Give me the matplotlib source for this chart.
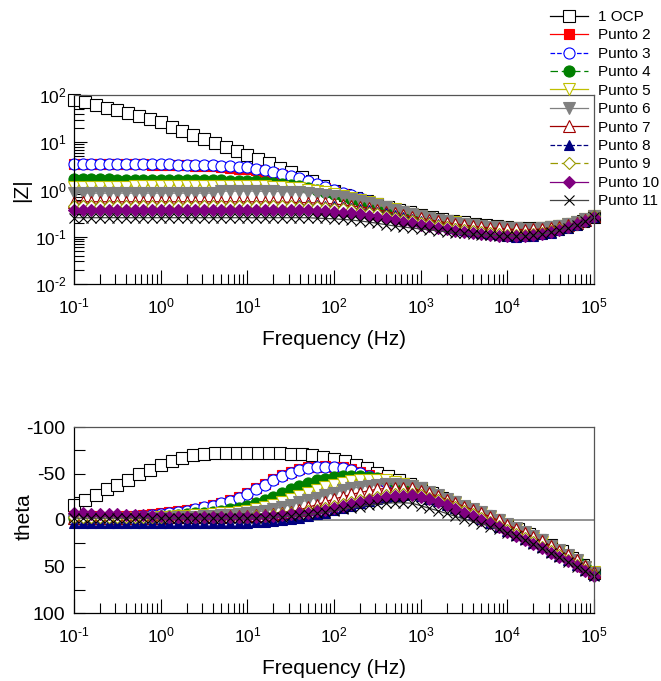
import numpy as np
import matplotlib.pyplot as plt
from matplotlib.ticker import FixedLocator, NullFormatter, FuncFormatter

plt.rcParams["font.family"] = ["Liberation Sans", "DejaVu Sans"]
plt.rcParams["mathtext.fontset"] = "custom"
plt.rcParams["mathtext.rm"] = "Liberation Sans"
plt.rcParams["mathtext.default"] = "regular"
plt.rcParams["axes.unicode_minus"] = False

# frequency sweeps (Hz), low -> high
freq_ocp = np.logspace(-1, 5, 49)   # 8 points per decade
freq = np.logspace(-1, 5, 61)       # 10 points per decade

labels = ["1 OCP", "Punto 2", "Punto 3", "Punto 4", "Punto 5", "Punto 6",
          "Punto 7", "Punto 8", "Punto 9", "Punto 10", "Punto 11"]

# |Z|
z_ocp = [78, 70, 62, 54, 47, 41, 35.5, 30.5, 26.5,
         21.5, 17.5, 14.3, 11.7, 9.6, 7.9, 6.5, 5.45,
         4.45, 3.6, 2.9, 2.33, 1.87, 1.5, 1.19, 0.946,
         0.781, 0.66, 0.561, 0.484, 0.424, 0.374, 0.33, 0.292,
         0.259, 0.237, 0.218, 0.201, 0.187, 0.176, 0.166, 0.158,
         0.153, 0.151, 0.152, 0.157, 0.168, 0.187, 0.218, 0.264]
z_p2 = [3.43, 3.43, 3.42, 3.42, 3.41, 3.41, 3.40, 3.40, 3.39, 3.38, 3.38,
        3.36, 3.33, 3.25, 3.19, 3.15, 3.08, 2.97, 2.88, 2.77, 2.66,
        2.53, 2.38, 2.20, 2.00, 1.79, 1.58, 1.39, 1.21, 1.06, 0.924,
        0.803, 0.704, 0.616, 0.539, 0.473, 0.413, 0.363, 0.325, 0.292, 0.264,
        0.242, 0.224, 0.209, 0.196, 0.185, 0.175, 0.166, 0.158, 0.153, 0.149,
        0.145, 0.144, 0.144, 0.147, 0.154, 0.164, 0.179, 0.200, 0.231, 0.281]
z_p3 = [3.47, 3.47, 3.45, 3.45, 3.44, 3.44, 3.43, 3.43, 3.42, 3.41, 3.41,
        3.40, 3.38, 3.36, 3.33, 3.30, 3.26, 3.20, 3.12, 3.04, 2.93,
        2.77, 2.60, 2.40, 2.18, 1.95, 1.72, 1.50, 1.30, 1.13, 0.99,
        0.858, 0.748, 0.649, 0.561, 0.495, 0.429, 0.380, 0.336, 0.297, 0.270,
        0.248, 0.229, 0.213, 0.200, 0.188, 0.178, 0.169, 0.162, 0.155, 0.151,
        0.147, 0.145, 0.145, 0.149, 0.155, 0.165, 0.180, 0.201, 0.231, 0.275]
z_p4 = [1.65, 1.65, 1.64, 1.64, 1.63, 1.62, 1.62, 1.61, 1.61, 1.60, 1.60,
        1.60, 1.60, 1.58, 1.58, 1.58, 1.57, 1.56, 1.55, 1.54, 1.52,
        1.49, 1.44, 1.39, 1.32, 1.24, 1.16, 1.07, 0.979, 0.891, 0.803,
        0.715, 0.638, 0.561, 0.495, 0.44, 0.391, 0.347, 0.308, 0.281, 0.259,
        0.240, 0.223, 0.209, 0.197, 0.186, 0.176, 0.167, 0.160, 0.154, 0.150,
        0.146, 0.144, 0.144, 0.147, 0.154, 0.164, 0.179, 0.200, 0.231, 0.275]
z_p5 = [1.12, 1.12, 1.12, 1.12, 1.12, 1.13, 1.13, 1.21, 1.21, 1.21, 1.21,
        1.21, 1.21, 1.21, 1.21, 1.21, 1.20, 1.20, 1.20, 1.19, 1.19,
        1.18, 1.17, 1.14, 1.12, 1.09, 1.05, 0.99, 0.935, 0.869, 0.803,
        0.737, 0.671, 0.605, 0.539, 0.484, 0.429, 0.380, 0.336, 0.303, 0.275,
        0.251, 0.231, 0.216, 0.202, 0.190, 0.180, 0.172, 0.164, 0.157, 0.153,
        0.150, 0.147, 0.147, 0.151, 0.157, 0.167, 0.183, 0.204, 0.233, 0.275]
z_p6 = [0.847, 0.847, 0.836, 0.836, 0.836, 0.836, 0.836, 0.836, 0.836, 0.836, 0.836,
        0.836, 0.836, 0.836, 0.836, 0.836, 0.836, 0.924, 0.924, 0.924, 0.924,
        0.924, 0.913, 0.913, 0.902, 0.891, 0.869, 0.847, 0.814, 0.781, 0.737,
        0.693, 0.638, 0.583, 0.528, 0.473, 0.418, 0.374, 0.33, 0.297, 0.270,
        0.246, 0.228, 0.212, 0.199, 0.188, 0.178, 0.169, 0.163, 0.157, 0.153,
        0.151, 0.149, 0.149, 0.152, 0.158, 0.168, 0.184, 0.205, 0.234, 0.275]
z_p7 = [0.55, 0.55, 0.55, 0.55, 0.55, 0.55, 0.55, 0.55, 0.55, 0.55, 0.55,
        0.55, 0.55, 0.55, 0.55, 0.55, 0.55, 0.55, 0.55, 0.55, 0.55,
        0.55, 0.55, 0.539, 0.539, 0.539, 0.528, 0.528, 0.517, 0.506, 0.495,
        0.473, 0.451, 0.429, 0.407, 0.374, 0.341, 0.314, 0.286, 0.264, 0.244,
        0.227, 0.211, 0.198, 0.187, 0.177, 0.168, 0.161, 0.154, 0.150, 0.145,
        0.143, 0.142, 0.143, 0.146, 0.153, 0.163, 0.178, 0.199, 0.229, 0.273]
z_p8 = [0.473, 0.473, 0.473, 0.473, 0.473, 0.473, 0.473, 0.473, 0.473, 0.473, 0.473,
        0.473, 0.473, 0.473, 0.473, 0.473, 0.473, 0.473, 0.473, 0.473, 0.473,
        0.473, 0.473, 0.473, 0.473, 0.473, 0.473, 0.462, 0.462, 0.451, 0.44,
        0.424, 0.407, 0.385, 0.363, 0.341, 0.314, 0.286, 0.264, 0.242, 0.22,
        0.204, 0.185, 0.168, 0.154, 0.141, 0.130, 0.120, 0.112, 0.107, 0.102,
        0.101, 0.102, 0.106, 0.112, 0.122, 0.136, 0.155, 0.179, 0.212, 0.259]
z_p9 = [0.44, 0.44, 0.44, 0.44, 0.44, 0.44, 0.44, 0.44, 0.44, 0.44, 0.44,
        0.44, 0.44, 0.44, 0.44, 0.44, 0.44, 0.44, 0.44, 0.44, 0.44,
        0.44, 0.44, 0.44, 0.44, 0.44, 0.435, 0.429, 0.418, 0.407, 0.396,
        0.380, 0.363, 0.341, 0.319, 0.297, 0.275, 0.253, 0.231, 0.215, 0.198,
        0.183, 0.169, 0.157, 0.147, 0.139, 0.131, 0.124, 0.119, 0.114, 0.111,
        0.11, 0.111, 0.114, 0.121, 0.131, 0.144, 0.163, 0.187, 0.22, 0.27]
z_p10 = [0.374, 0.374, 0.374, 0.374, 0.374, 0.374, 0.374, 0.374, 0.374, 0.374, 0.374,
         0.374, 0.374, 0.374, 0.374, 0.374, 0.374, 0.374, 0.374, 0.374, 0.374,
         0.374, 0.374, 0.374, 0.374, 0.374, 0.369, 0.363, 0.358, 0.347, 0.336,
         0.325, 0.314, 0.297, 0.281, 0.264, 0.244, 0.226, 0.209, 0.194, 0.179,
         0.166, 0.154, 0.143, 0.133, 0.125, 0.119, 0.113, 0.109, 0.106, 0.103,
         0.103, 0.106, 0.109, 0.116, 0.125, 0.139, 0.157, 0.182, 0.215, 0.264]
z_p11 = [0.253, 0.253, 0.253, 0.253, 0.253, 0.253, 0.253, 0.253, 0.253, 0.253, 0.253,
         0.253, 0.253, 0.253, 0.253, 0.253, 0.253, 0.253, 0.253, 0.253, 0.253,
         0.253, 0.253, 0.253, 0.253, 0.253, 0.253, 0.253, 0.248, 0.244, 0.240,
         0.233, 0.226, 0.216, 0.205, 0.193, 0.180, 0.169, 0.161, 0.153, 0.146,
         0.140, 0.133, 0.128, 0.122, 0.118, 0.113, 0.11, 0.107, 0.105, 0.103,
         0.103, 0.105, 0.108, 0.114, 0.124, 0.138, 0.156, 0.18, 0.213, 0.262]

# theta (deg)
t_ocp = [-16, -21, -27, -33, -38, -43, -49, -54, -59,
         -63, -67, -70, -71.5, -72, -72.5, -72.5, -72.5,
         -72.5, -72, -72, -71.5, -70.5, -69.5, -68, -66,
         -63, -59.5, -55.5, -51, -47, -43, -39, -34,
         -29, -24, -19, -14, -9, -4.5, 0, 5,
         10, 15, 21, 27, 33.5, 40.5, 48, 56.5]
t_p2 = [-4.5, -4, -4, -3.5, -3.5, -3.5, -4, -4.5, -5, -6, -7,
        -8.5, -9.5, -10.5, -12, -14, -16, -18.5, -21.5, -24.5, -29,
        -34, -39, -44, -48, -51.5, -54.5, -56.5, -57.5, -58, -57.5,
        -56.5, -54.5, -51.5, -48, -45, -42, -39, -36.5, -34, -30.5,
        -27, -24, -20.5, -17, -13, -9.5, -6, -2.5, 1.5, 5.5,
        10, 14, 19, 23.5, 28.5, 33.5, 38.5, 44, 50, 56]
t_p3 = [-4, -3.5, -3.5, -3, -3, -3, -3.5, -4, -4.5, -5.5, -6.5,
        -8, -9, -10, -11.5, -13.5, -15.5, -18, -20.5, -23.5, -28,
        -33, -38, -43, -47, -50.5, -53.5, -55.5, -56.5, -57, -56.5,
        -55.5, -53.5, -50.5, -47, -44, -41, -38.5, -36, -33.5, -30,
        -26.5, -23.5, -20, -16.5, -12.5, -9, -5.5, -2, 2, 6,
        10.5, 14.5, 19.5, 24, 29, 34, 39, 44.5, 50.5, 56.5]
t_p4 = [-2, -2, -2, -2, -2, -2, -2, -2.5, -2.5, -3, -4,
        -4.5, -5, -6, -7, -8, -9, -10, -11.5, -12.5, -15,
        -18, -21.5, -25, -29, -33, -36.5, -40, -42.5, -44.5, -46,
        -47, -47.5, -47.5, -46.5, -45, -43, -40.5, -38, -35.5, -32,
        -28, -24.5, -21, -17.5, -13.5, -10, -6.5, -3, 1, 5,
        9.5, 13.5, 18.5, 23, 28, 33, 38, 43.5, 49.5, 55.5]
t_p5 = [-1, -1, -1.5, -1.5, -1.5, -2, -2, -2, -2.5, -2.5, -3,
        -3.5, -4, -4.5, -5, -5.5, -6, -7, -7.5, -8.5, -10,
        -11.5, -13.5, -16, -19, -22.5, -26, -29, -32, -35, -37.5,
        -39.5, -41.5, -43, -43.5, -43.5, -42.5, -41, -39, -36.5, -33,
        -29, -25.5, -22, -18, -14, -10.5, -7, -3, 1, 5.5,
        10, 14, 19, 23.5, 28.5, 33.5, 38.5, 44, 50, 56]
t_p6 = [-1, -1, -1, -1, -1, -1, -1.5, -1.5, -1.5, -2, -2,
        -2.5, -3, -3, -3.5, -4, -4.5, -5, -5.5, -6.5, -7.5,
        -8.5, -10, -12, -14, -16.5, -19, -21.5, -24, -27, -29.5,
        -32, -34, -35.5, -37, -38, -38.5, -38.5, -38, -37, -34,
        -30, -26.5, -23, -19.5, -15.5, -12, -8.5, -4.5, -0.5, 4,
        8.5, 12.5, 17.5, 22, 27.5, 32.5, 38, 43.5, 50, 56.5]
t_p7 = [-2, -2, -2, -2, -2, -2, -2, -2, -2.5, -2.5, -2.5,
        -3, -3, -3, -3, -3.5, -3.5, -3.5, -4, -4, -4.5,
        -5, -5.5, -6.5, -7.5, -9, -11, -13.5, -16.5, -19.5, -22.5,
        -25, -27.5, -29.5, -31.5, -33, -34, -34.5, -34.5, -34, -31.5,
        -28.5, -25.5, -22, -18.5, -14.5, -11, -7.5, -3.5, 0.5, 5,
        9.5, 13.5, 18.5, 23, 28, 33, 38, 43.5, 49.5, 56]
t_p8 = [3, 3, 3, 3, 3, 3, 3, 3, 3, 3, 3,
        3, 3, 3, 3, 3, 3, 3, 3, 3, 3,
        2.5, 2, 1, 0, -1, -2.5, -4, -6, -8, -10.5,
        -13, -15.5, -18, -20.5, -22.5, -24.5, -26, -27, -27.5, -26,
        -23, -20, -16.5, -12.5, -8.5, -5, -1, 3, 7, 11.5,
        16, 20, 24.5, 29, 34, 38.5, 43.5, 48.5, 54, 59.5]
t_p9 = [-3, -3, -3, -3, -3, -3, -3, -3, -3, -3, -3,
        -3, -3, -3, -3, -3, -3, -3, -3, -3.5, -3.5,
        -4, -4.5, -5, -6, -7, -8, -9.5, -11, -13, -15,
        -17, -19, -21, -23, -25, -26.5, -27.5, -28, -28, -26.5,
        -24, -21, -17.5, -13.5, -9.5, -6, -2, 2, 6, 10.5,
        15, 19, 24, 28.5, 33.5, 38, 43, 48.5, 54, 59.5]
t_p10 = [-7, -7, -6.5, -6.5, -6, -6, -5.5, -5, -5, -4.5, -4,
         -3.5, -3.5, -3, -3, -3, -3, -3, -3, -3, -3,
         -3.5, -4, -4.5, -5, -6, -7, -8, -9.5, -11, -13,
         -15, -17, -19, -21, -23, -24.5, -25.5, -26, -26.5, -25,
         -22.5, -19.5, -16, -12, -8, -4.5, -0.5, 3.5, 8, 12.5,
         17, 21, 25.5, 30, 35, 39.5, 44.5, 49.5, 55, 60]
t_p11 = [-2, -2, -2, -2, -2, -2, -2, -2, -2, -2, -2,
         -2, -2, -2, -2, -2, -2, -2, -2, -2, -2,
         -2.5, -2.5, -3, -3.5, -4, -5, -6, -7, -8.5, -10,
         -11.5, -13, -14.5, -16, -17, -18, -18.5, -18.5, -18, -15.5,
         -12.5, -10, -7, -4, -1, 1.5, 4, 7, 10, 13.5,
         17.5, 21.5, 26, 30.5, 35.5, 40, 45, 50, 55, 60]

z_all = [z_ocp, z_p2, z_p3, z_p4, z_p5, z_p6, z_p7, z_p8, z_p9, z_p10, z_p11]
t_all = [t_ocp, t_p2, t_p3, t_p4, t_p5, t_p6, t_p7, t_p8, t_p9, t_p10, t_p11]

# (color, marker, face, linestyle, size)
styles = [
    ("black", "s", "white", "-", 8.5),
    ("red", "s", "red", "-", 7.5),
    ("blue", "o", "white", "--", 8),
    ("green", "o", "green", (0, (6, 3)), 8),
    ("#bfbf00", "v", "white", "-", 8),
    ("gray", "v", "gray", "-", 8),
    ("#a00000", "^", "white", "-", 8),
    ("navy", "^", "navy", "--", 7.5),
    ("#999900", "D", "white", (0, (6, 3)), 6),
    ("purple", "D", "purple", "-", 6.5),
    ("black", "x", "black", "-", 7),
]


def pow10(v, pos):
    # hyphen instead of the long math minus, as in the original
    return r"$10^{\text{%d}}$" % int(round(np.log10(v)))


fig = plt.figure(figsize=(6.61, 6.81), dpi=100)
ax1 = fig.add_axes([74 / 661, 1 - 284 / 681, 520 / 661, 189 / 681])
ax2 = fig.add_axes([74 / 661, 1 - 613 / 681, 520 / 661, 186 / 681])

for i in range(len(labels)):
    f = freq_ocp if i == 0 else freq
    col, mk, face, ls, ms = styles[i]
    kw = dict(color=col, marker=mk, markerfacecolor=face, markeredgecolor=col,
              linestyle=ls, linewidth=0.9, markersize=ms, markeredgewidth=0.8,
              clip_on=False)
    if mk == "x":
        kw["color"] = "#444444"
        kw["markeredgecolor"] = "black"
    ax1.plot(f, z_all[i], label=labels[i], **kw)
    ax2.plot(f, t_all[i], **kw)

ax2.axhline(0, color="gray", linewidth=1.2, zorder=1)

decades = [0.1, 1, 10, 100, 1e3, 1e4, 1e5]
minor_x = [m * d for d in decades[:-1] for m in range(2, 10)]
z_decades = [0.01, 0.1, 1, 10, 100]
minor_z = [m * d for d in z_decades[:-1] for m in range(2, 10)]

for ax in (ax1, ax2):
    ax.set_xscale("log")
    ax.set_xlim(0.1, 1e5)
    ax.xaxis.set_major_locator(FixedLocator(decades))
    ax.xaxis.set_minor_locator(FixedLocator(minor_x))
    ax.xaxis.set_major_formatter(FuncFormatter(pow10))
    ax.xaxis.set_minor_formatter(NullFormatter())
    ax.tick_params(which="both", direction="in", top=False, right=False,
                   width=0.8)
    ax.tick_params(axis="x", which="major", length=10, labelsize=12.5, pad=9)
    ax.tick_params(axis="x", which="minor", length=7)
    ax.set_xlabel("Frequency (Hz)", fontsize=15)
    for s in ("top", "right"):
        ax.spines[s].set_color("#555555")
    for s in ax.spines.values():
        s.set_linewidth(0.9)

ax1.set_yscale("log")
ax1.set_ylim(1e-2, 1e2)
ax1.yaxis.set_major_locator(FixedLocator(z_decades))
ax1.yaxis.set_minor_locator(FixedLocator(minor_z))
ax1.yaxis.set_major_formatter(FuncFormatter(pow10))
ax1.yaxis.set_minor_formatter(NullFormatter())
ax1.tick_params(axis="y", which="major", length=9, labelsize=12.5, pad=5)
ax1.tick_params(axis="y", which="minor", length=7)
ax1.set_ylabel("|Z|", fontsize=15)
ax1.yaxis.set_label_coords(-0.083, 0.497)
ax1.xaxis.set_label_coords(0.5, -0.243)

ax2.set_ylim(100, -100)
ax2.yaxis.set_major_locator(FixedLocator([-100, -50, 0, 50, 100]))
ax2.yaxis.set_minor_locator(FixedLocator([-75, -25, 25, 75]))
ax2.tick_params(axis="y", which="both", length=8, labelsize=14, pad=6.5)
ax2.set_ylabel("theta", fontsize=15)
ax2.yaxis.set_label_coords(-0.077, 0.52)
ax2.xaxis.set_label_coords(0.5, -0.25)

fig.legend(*ax1.get_legend_handles_labels(), loc="upper left",
           bbox_to_anchor=(547 / 661, 1 - 7 / 681), frameon=False,
           fontsize=11, numpoints=1, handlelength=2.5, handletextpad=0.65,
           labelspacing=0.29, borderpad=0.2, borderaxespad=0)

fig.savefig("out.png", dpi=100)
